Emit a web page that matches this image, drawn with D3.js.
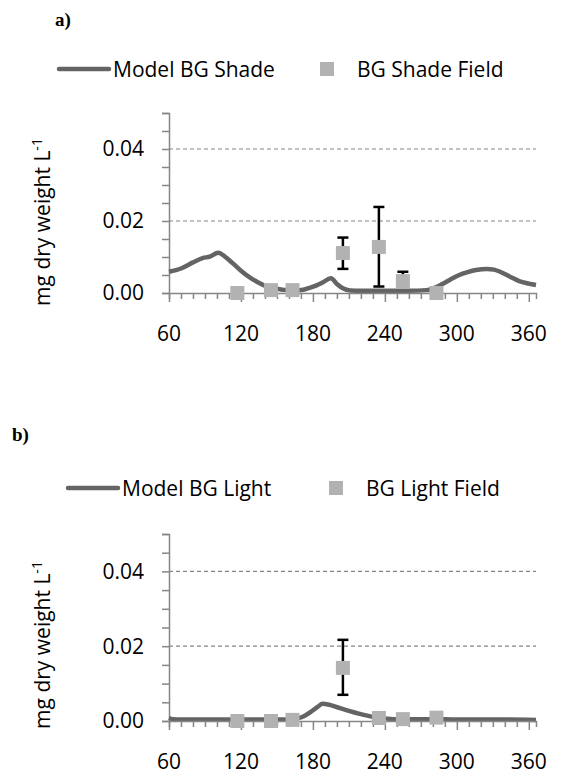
<!DOCTYPE html>
<html>
<head>
<meta charset="utf-8">
<script src="https://cdn.jsdelivr.net/npm/d3@7"></script>
<style>
  body { margin: 0; background: #fff; }
  text { font-family: "Open Sans", sans-serif; fill: #000; }
</style>
</head>
<body>
<svg id="chart" width="562" height="779"></svg>
<script>
// model curves (day of year, mg dry weight / L)
const shadeModelDays = [60, 70, 80, 88, 94, 101, 107, 113, 120, 127, 134, 141, 150, 158, 165, 172, 177, 183, 188, 195, 200, 205, 211, 220, 240, 260, 275, 282, 288, 295, 302, 309, 316, 325, 331, 336, 344, 352, 360, 366];
const shadeModel = [0.0059, 0.0068, 0.0085, 0.0097, 0.0101, 0.0112, 0.0100, 0.0083, 0.0062, 0.0044, 0.0030, 0.0019, 0.0012, 0.0008, 0.0007, 0.0009, 0.0014, 0.0021, 0.0029, 0.0041, 0.0025, 0.0013, 0.0007, 0.0006, 0.0006, 0.0006, 0.0008, 0.0015, 0.0025, 0.0038, 0.0050, 0.0058, 0.0064, 0.0067, 0.0065, 0.0059, 0.0046, 0.0033, 0.0026, 0.0022];

const lightModelDays = [60, 63, 70, 100, 130, 160, 166, 172, 178, 184, 188, 194, 202, 210, 219, 230, 240, 247, 260, 280, 300, 340, 366];
const lightModel = [0.0008, 0.0005, 0.0004, 0.0004, 0.0004, 0.0004, 0.0006, 0.0012, 0.0024, 0.0038, 0.0046, 0.0043, 0.0035, 0.0027, 0.0019, 0.0011, 0.0007, 0.0005, 0.0005, 0.0005, 0.0004, 0.0004, 0.0003];

// field samples
const fieldDays = [117, 145, 163, 205, 235, 255, 283];
const shadeField = [0.0000, 0.0008, 0.0008, 0.0111, 0.0128, 0.0033, 0.0000];
const shadeErrLow = [null, null, null, 0.0067, 0.0018, 0.0025, null];
const shadeErrHigh = [null, null, null, 0.0154, 0.0239, 0.0059, null];
const lightField = [0.0000, 0.0000, 0.0003, 0.0142, 0.0008, 0.0005, 0.0009];
const lightErrLow = [null, null, null, 0.0070, null, null, null];
const lightErrHigh = [null, null, null, 0.0217, null, null, null];

const xTicks = [60, 120, 180, 240, 300, 360];
const yTicks = [0, 0.02, 0.04];

const svg = d3.select('#chart');
const lineColor = '#646464';
const markColor = '#b2b2b2';
const axisColor = '#868686';

const drawPanel = function (opt) {
    const x = d3.scaleLinear().domain([60, 366]).range([169, 536]);
    const y = d3.scaleLinear().domain([0, 0.05]).range([opt.bottom, opt.top]);
    const g = svg.append('g');

    // panel letter
    g.append('text')
        .attr('x', opt.letterX).attr('y', opt.letterY)
        .style('font-family', '"Liberation Serif", "Times New Roman", serif')
        .style('font-weight', 'bold').style('font-size', '19px')
        .text(opt.letter);

    // legend
    g.append('line')
        .attr('x1', opt.legX).attr('x2', opt.legX + 50)
        .attr('y1', opt.legY).attr('y2', opt.legY)
        .attr('stroke', lineColor).attr('stroke-width', 4.5).attr('stroke-linecap', 'round');
    g.append('text')
        .attr('x', opt.legX + 54).attr('y', opt.legY + 7.5)
        .style('font-size', '21px').text(opt.lineName);
    g.append('rect')
        .attr('x', opt.legX + 261).attr('y', opt.legY - 7)
        .attr('width', 14).attr('height', 14).attr('fill', markColor);
    g.append('text')
        .attr('x', opt.legX + 298).attr('y', opt.legY + 7.5)
        .style('font-size', '21px').text(opt.pointName);

    // gridlines
    g.selectAll('.grid').data([0.02, 0.04]).enter().append('line')
        .attr('x1', 169).attr('x2', 536)
        .attr('y1', (d) => y(d)).attr('y2', (d) => y(d))
        .attr('stroke', axisColor).attr('stroke-width', 1.2)
        .attr('stroke-dasharray', '4,3');

    // y axis with minor ticks
    const yAxis = d3.axisLeft(y).tickValues(d3.range(0, 0.0501, 0.005))
        .tickSize(7).tickFormat('');
    const ya = g.append('g').attr('transform', 'translate(169,0)').call(yAxis);
    ya.select('.domain').attr('stroke', axisColor).attr('stroke-width', 1.5);
    ya.selectAll('.tick line').attr('stroke', axisColor).attr('stroke-width', 1.5);
    g.selectAll('.ylab').data(yTicks).enter().append('text')
        .attr('x', 144).attr('y', (d) => y(d))
        .attr('dy', '0.35em').attr('text-anchor', 'end')
        .style('font-size', '21px')
        .text((d) => d3.format('.2f')(d));

    // model curve
    const pts = opt.modelDays.map((d, i) => [d, opt.model[i]]);
    g.append('path')
        .attr('d', d3.line().x((d) => x(d[0])).y((d) => y(d[1])).curve(d3.curveMonotoneX)(pts))
        .attr('fill', 'none').attr('stroke', lineColor).attr('stroke-width', 4.5);

    // x axis
    const xa = g.append('g').attr('transform', 'translate(0,' + opt.bottom + ')')
        .call(d3.axisBottom(x).tickValues(d3.range(60, 361, 10)).tickSize(6).tickFormat(''));
    xa.select('.domain').attr('stroke', axisColor).attr('stroke-width', 1.5);
    xa.selectAll('.tick line').attr('stroke', axisColor).attr('stroke-width', 1.5)
        .attr('y2', (d) => (d % 60 === 0 ? 9 : 6));
    g.selectAll('.xlab').data(xTicks).enter().append('text')
        .attr('x', (d) => x(d)).attr('y', opt.bottom + 41)
        .attr('dy', '0.35em').attr('text-anchor', 'middle')
        .style('font-size', '21px').text((d) => d);

    // y title
    const t = g.append('text')
        .attr('transform', 'translate(50,' + opt.titleY + ') rotate(-90)')
        .attr('text-anchor', 'middle').style('font-size', '21px');
    t.append('tspan').text('mg dry weight L');
    t.append('tspan').attr('dy', -8).style('font-size', '14px').text('-1');

    // error bars
    fieldDays.forEach((d, i) => {
        if (opt.errLow[i] === null) return;
        const cx = x(d);
        const eg = g.append('g').attr('stroke', '#000').attr('stroke-width', 2.5);
        eg.append('line').attr('x1', cx).attr('x2', cx)
            .attr('y1', y(opt.errLow[i])).attr('y2', y(opt.errHigh[i]));
        [opt.errLow[i], opt.errHigh[i]].forEach((v) => {
            eg.append('line').attr('x1', cx - 5.5).attr('x2', cx + 5.5)
                .attr('y1', y(v)).attr('y2', y(v));
        });
    });

    // field points
    g.selectAll('.pt').data(fieldDays).enter().append('rect')
        .attr('x', (d) => x(d) - 7)
        .attr('y', (d, i) => y(opt.field[i]) - 7)
        .attr('width', 14).attr('height', 14)
        .attr('fill', markColor);
};

drawPanel({
    letter: 'a)', letterX: 55, letterY: 26,
    legX: 59, legY: 69,
    lineName: 'Model BG Shade', pointName: 'BG Shade Field',
    top: 113, bottom: 293, titleY: 222,
    modelDays: shadeModelDays, model: shadeModel,
    field: shadeField, errLow: shadeErrLow, errHigh: shadeErrHigh
});

drawPanel({
    letter: 'b)', letterX: 12, letterY: 441,
    legX: 68, legY: 488,
    lineName: 'Model BG Light', pointName: 'BG Light Field',
    top: 534, bottom: 721, titleY: 645,
    modelDays: lightModelDays, model: lightModel,
    field: lightField, errLow: lightErrLow, errHigh: lightErrHigh
});
</script>
</body>
</html>
